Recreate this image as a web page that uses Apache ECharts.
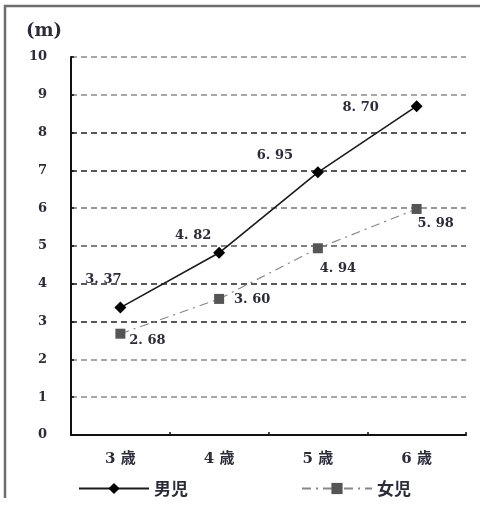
<!DOCTYPE html>
<html>
<head>
<meta charset="utf-8">
<script src="https://cdn.jsdelivr.net/npm/echarts@6/dist/echarts.min.js"></script>
<style>
  html, body { margin: 0; padding: 0; background: #fff; }
  #chart { width: 480px; height: 514px; }
</style>
</head>
<body>
<div id="chart"></div>
<script>
// Age groups and mean distances (m)
const ages = ['3 歳', '4 歳', '5 歳', '6 歳'];
const boys = [3.37, 4.82, 6.95, 8.70];
const girls = [2.68, 3.60, 4.94, 5.98];
const seriesNames = ['男児', '女児'];
const unitLabel = '(m)';

// Where each value label sits relative to its point
const boyLabelShift = [[-17, -28], [-26, -17], [-43, -17], [-56, 1]];
const girlLabelShift = [[27, 7], [33, 1], [20, 20], [19, 15]];

const serif = '"DejaVu Serif", "Liberation Serif", "Noto Sans CJK JP", serif';
const cjk = '"Noto Sans CJK JP", sans-serif';
const textColor = '#2b2b3a';

function fmt(v) {
  return v.toFixed(2).replace('.', '. ');
}

function withLabels(values, shifts) {
  return values.map((v, i) => ({
    value: v,
    label: { offset: shifts[i] }
  }));
}

// Grid lines alternate in weight as in the printed figure
const gridColors = ['#000', '#8a8a8a', '#8a8a8a', '#222', '#222', '#555',
                    '#777', '#222', '#222', '#8a8a8a', '#8a8a8a'];

const chart = echarts.init(document.getElementById('chart'), null, { renderer: 'canvas' });

const valueLabel = {
  show: true,
  position: 'inside',
  formatter: p => fmt(p.value),
  fontFamily: serif,
  fontWeight: 'bold',
  fontSize: 13,
  color: textColor
};

chart.setOption({
  animation: false,
  backgroundColor: '#fff',
  grid: { left: 71, right: 14, top: 57, bottom: 79 },
  graphic: [
    {
      type: 'polyline',
      shape: { points: [[5, 514 - 16], [5, 6], [480, 6]] },
      style: { stroke: '#6e6e6e', lineWidth: 2.5, fill: null }
    },
    {
      type: 'text',
      left: 26,
      top: 22,
      style: {
        text: unitLabel,
        font: 'bold 18px "DejaVu Serif", serif',
        fill: textColor
      }
    }
  ],
  legend: {
    left: 78,
    top: 480,
    padding: 0,
    itemWidth: 70,
    itemHeight: 14,
    itemGap: 113,
    textStyle: { fontFamily: cjk, fontWeight: 'bold', fontSize: 17, color: textColor, padding: [0, 0, 0, 0] },
    data: seriesNames
  },
  xAxis: {
    type: 'category',
    data: ages,
    boundaryGap: true,
    axisLine: { lineStyle: { color: '#111', width: 2 } },
    axisTick: { show: true, inside: true, length: 3, lineStyle: { color: '#111', width: 1.5 } },
    axisLabel: {
      margin: 17,
      fontFamily: serif,
      fontWeight: 'bold',
      fontSize: 15,
      color: textColor
    },
    splitLine: { show: false }
  },
  yAxis: {
    type: 'value',
    min: 0,
    max: 10,
    interval: 1,
    axisLine: { show: true, lineStyle: { color: '#111', width: 2 } },
    axisTick: { show: true, inside: true, length: 3, lineStyle: { color: '#111', width: 1.5 } },
    axisLabel: {
      margin: 24,
      fontFamily: serif,
      fontWeight: 'bold',
      fontSize: 13,
      color: textColor
    },
    splitLine: {
      show: true,
      lineStyle: { color: gridColors, type: [6, 4], width: 1.5 }
    }
  },
  series: [
    {
      name: seriesNames[0],
      type: 'line',
      data: withLabels(boys, boyLabelShift),
      symbol: 'diamond',
      symbolSize: 12,
      itemStyle: { color: '#000' },
      lineStyle: { color: '#1a1a1a', width: 1.6, type: 'solid' },
      label: valueLabel,
      z: 3
    },
    {
      name: seriesNames[1],
      type: 'line',
      data: withLabels(girls, girlLabelShift),
      symbol: 'rect',
      symbolSize: 10,
      itemStyle: { color: '#555' },
      lineStyle: { color: '#888', width: 1.2, type: [9, 5, 2, 5] },
      label: valueLabel,
      z: 2
    }
  ]
});
</script>
</body>
</html>
